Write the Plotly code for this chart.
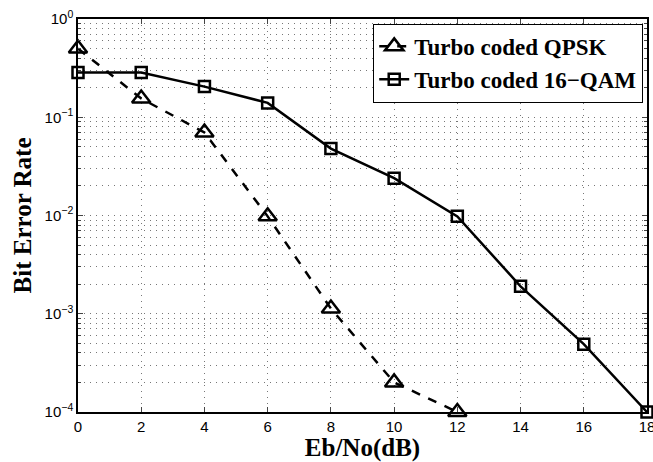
import plotly.graph_objects as go

ebno = [0, 2, 4, 6, 8, 10, 12, 14, 16, 18]
qpsk_x = [0, 2, 4, 6, 8, 10, 12]
qpsk_ber = [0.50, 0.155, 0.070, 0.0098, 0.00113, 0.00020, 0.000100]
qam16_ber = [0.285, 0.285, 0.205, 0.140, 0.048, 0.024, 0.0098, 0.0019, 0.00049, 0.000100]

x_ticks = [0, 2, 4, 6, 8, 10, 12, 14, 16, 18]
y_ticks = [1e-4, 1e-3, 1e-2, 1e-1, 1]
y_ticktext = ["10<sup>−4</sup>", "10<sup>−3</sup>", "10<sup>−2</sup>", "10<sup>−1</sup>", "10<sup>0</sup>"]
y_minor = [m * 10 ** e for e in range(-4, 0) for m in range(2, 10)]

grid_col = "#777"
grid_dash = "1px,5px"

fig = go.Figure()
fig.add_trace(go.Scatter(
    x=qpsk_x, y=qpsk_ber, mode="lines+markers", name="<b>Turbo coded QPSK</b>",
    line=dict(color="black", width=2.5, dash="dash"),
    marker=dict(symbol="triangle-up-open", size=16, color="black", line=dict(width=2.5, color="black")),
    cliponaxis=False,
))
fig.add_trace(go.Scatter(
    x=ebno, y=qam16_ber, mode="lines+markers", name="<b>Turbo coded 16−QAM</b>",
    line=dict(color="black", width=2.5),
    marker=dict(symbol="square-open", size=11, color="black", line=dict(width=2.5, color="black")),
    cliponaxis=False,
))

fig.update_layout(
    width=653, height=462,
    margin=dict(l=78, r=6, t=19, b=50, autoexpand=False),
    paper_bgcolor="white", plot_bgcolor="white",
    font=dict(family="Liberation Sans, Arial", size=15, color="black"),
    showlegend=True,
    legend=dict(
        x=0.993, y=0.988, xanchor="right", yanchor="top",
        bgcolor="white", bordercolor="black", borderwidth=1.2,
        font=dict(family="Liberation Serif, Times New Roman", size=23, color="black"),
        tracegroupgap=0, itemwidth=30,
    ),
)
fig.update_xaxes(
    range=[0, 18], tickvals=x_ticks, ticks="inside", ticklen=5,
    showline=True, linecolor="black", linewidth=1.5, mirror="ticks",
    showgrid=True, gridcolor=grid_col, griddash=grid_dash, gridwidth=1,
    zeroline=False, tickfont=dict(size=15), automargin=False, ticklabeloverflow="allow",
    title=dict(text="<b>Eb/No(dB)</b>", font=dict(family="Liberation Serif, Times New Roman", size=25), standoff=0),
)
fig.update_yaxes(
    type="log", range=[-4, 0], tickvals=y_ticks, ticktext=y_ticktext,
    ticks="inside", ticklen=5,
    showline=True, linecolor="black", linewidth=1.5, mirror="ticks",
    showgrid=True, gridcolor=grid_col, griddash=grid_dash, gridwidth=1,
    minor=dict(tickvals=y_minor, ticks="inside", ticklen=3, showgrid=True,
               gridcolor=grid_col, griddash=grid_dash, gridwidth=1),
    zeroline=False, tickfont=dict(size=15), automargin=False,
    title=dict(text="<b>Bit Error Rate</b>", font=dict(family="Liberation Serif, Times New Roman", size=25), standoff=6),
)

fig.write_html("out.html")
